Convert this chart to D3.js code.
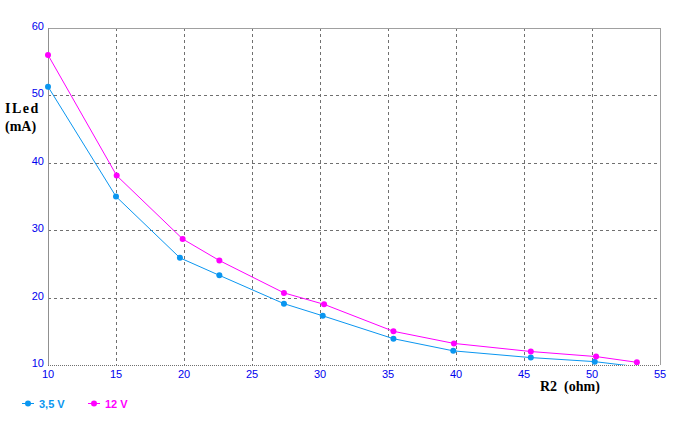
<!DOCTYPE html>
<html>
<head>
<meta charset="utf-8">
<script src="https://cdn.jsdelivr.net/npm/d3@7"></script>
<style>
  body { margin: 0; background: #fff; }
  svg { display: block; }
</style>
</head>
<body>
<script>
const width = 683;
const height = 423;

// R2 (ohm) values for each series
const r2Blue = [10, 15, 19.7, 22.6, 27.35, 30.2, 35.4, 39.8, 45.5, 50.2, 53.1];
const iBlue  = [51.3, 35.0, 25.9, 23.3, 19.1, 17.3, 13.9, 12.1, 11.1, 10.5, 9.8];

const r2Mag = [10, 15.05, 19.9, 22.6, 27.35, 30.3, 35.4, 39.85, 45.5, 50.3, 53.3];
const iMag  = [56.0, 38.1, 28.7, 25.5, 20.7, 19.0, 15.0, 13.2, 12.0, 11.25, 10.4];

const xTicks = [10, 15, 20, 25, 30, 35, 40, 45, 50, 55];
const yTicks = [10, 20, 30, 40, 50, 60];

const series = [
  { name: "3,5 V", color: "#0a96f0", xs: r2Blue, ys: iBlue },
  { name: "12 V", color: "#ff00ff", xs: r2Mag, ys: iMag }
];

const plot = { left: 48, right: 660, top: 28, bottom: 365 };

const svg = d3.select("body")
    .append("svg")
    .attr("width", width)
    .attr("height", height);

const xScale = d3.scaleLinear()
    .domain([10, 55])
    .range([plot.left, plot.right]);

const yScale = d3.scaleLinear()
    .domain([10, 60])
    .range([plot.bottom, plot.top]);

// dashed grid
svg.append("g")
    .selectAll("line")
    .data(xTicks.slice(1, -1))
    .join("line")
    .attr("x1", d => Math.round(xScale(d)) + 0.5)
    .attr("x2", d => Math.round(xScale(d)) + 0.5)
    .attr("y1", plot.top)
    .attr("y2", plot.bottom)
    .attr("stroke", "#707070")
    .attr("stroke-dasharray", "3,3");

svg.append("g")
    .selectAll("line")
    .data(yTicks.slice(1, -1))
    .join("line")
    .attr("x1", plot.left)
    .attr("x2", plot.right)
    .attr("y1", d => Math.round(yScale(d)) + 0.5)
    .attr("y2", d => Math.round(yScale(d)) + 0.5)
    .attr("stroke", "#707070")
    .attr("stroke-dasharray", "3,3");

// frame
svg.append("line")
    .attr("x1", plot.left).attr("x2", plot.right)
    .attr("y1", plot.top + 0.5).attr("y2", plot.top + 0.5)
    .attr("stroke", "#a0a0a0");
svg.append("line")
    .attr("x1", plot.right + 0.5).attr("x2", plot.right + 0.5)
    .attr("y1", plot.top).attr("y2", plot.bottom)
    .attr("stroke", "#a0a0a0");
svg.append("line")
    .attr("x1", plot.left + 0.5).attr("x2", plot.left + 0.5)
    .attr("y1", plot.top).attr("y2", plot.bottom + 1)
    .attr("stroke", "#909090");
svg.append("line")
    .attr("x1", plot.left).attr("x2", plot.right)
    .attr("y1", plot.bottom + 0.5).attr("y2", plot.bottom + 0.5)
    .attr("stroke", "#707070")
    .attr("stroke-dasharray", "1,1");

// tick labels
svg.append("g")
    .selectAll("text")
    .data(xTicks)
    .join("text")
    .attr("x", d => xScale(d))
    .attr("y", plot.bottom + 13)
    .attr("text-anchor", "middle")
    .attr("font-family", "Liberation Sans, Arial, sans-serif")
    .attr("font-size", 11)
    .attr("fill", "#0000ee")
    .text(d => d);

svg.append("g")
    .selectAll("text")
    .data(yTicks)
    .join("text")
    .attr("x", plot.left - 4)
    .attr("y", d => yScale(d) + 2)
    .attr("text-anchor", "end")
    .attr("font-family", "Liberation Sans, Arial, sans-serif")
    .attr("font-size", 11)
    .attr("fill", "#0000ee")
    .text(d => d);

// axis titles
const yTitle = svg.append("text")
    .attr("font-family", "Liberation Serif, Times New Roman, serif")
    .attr("font-weight", "bold")
    .attr("font-size", 14)
    .attr("fill", "#000");
yTitle.append("tspan").attr("x", 5).attr("y", 113).attr("letter-spacing", 1.5).text("ILed");
yTitle.append("tspan").attr("x", 5).attr("y", 131).text("(mA)");

svg.append("text")
    .attr("x", 540)
    .attr("y", 391)
    .attr("font-family", "Liberation Serif, Times New Roman, serif")
    .attr("font-weight", "bold")
    .attr("font-size", 14)
    .attr("fill", "#000")
    .style("white-space", "pre")
    .text("R2  (ohm)");

// series
svg.append("clipPath")
    .attr("id", "clip")
    .append("rect")
    .attr("x", plot.left - 5)
    .attr("y", plot.top - 5)
    .attr("width", plot.right - plot.left + 10)
    .attr("height", plot.bottom - plot.top + 5);

const line = d3.line()
    .x(d => xScale(d[0]))
    .y(d => yScale(d[1]));

const g = svg.append("g").attr("clip-path", "url(#clip)");

series.forEach(s => {
    const pts = s.xs.map((x, i) => [x, s.ys[i]]);
    g.append("path")
        .datum(pts)
        .attr("d", line)
        .attr("fill", "none")
        .attr("stroke", s.color)
        .attr("stroke-width", 1);
    g.append("g")
        .selectAll("circle")
        .data(pts.filter(p => p[1] >= 10))
        .join("circle")
        .attr("cx", d => xScale(d[0]))
        .attr("cy", d => yScale(d[1]))
        .attr("r", 3)
        .attr("fill", s.color);
});

// legend
const legend = svg.append("g");
series.forEach((s, i) => {
    const x0 = 22 + i * 66;
    legend.append("line")
        .attr("x1", x0).attr("x2", x0 + 12)
        .attr("y1", 403.5).attr("y2", 403.5)
        .attr("stroke", s.color);
    legend.append("circle")
        .attr("cx", x0 + 6).attr("cy", 403.5)
        .attr("r", 3)
        .attr("fill", s.color);
    legend.append("text")
        .attr("x", x0 + 17)
        .attr("y", 408)
        .attr("font-family", "Liberation Sans, Arial, sans-serif")
        .attr("font-weight", "bold")
        .attr("font-size", 11)
        .attr("fill", s.color)
        .text(s.name);
});
</script>
</body>
</html>
